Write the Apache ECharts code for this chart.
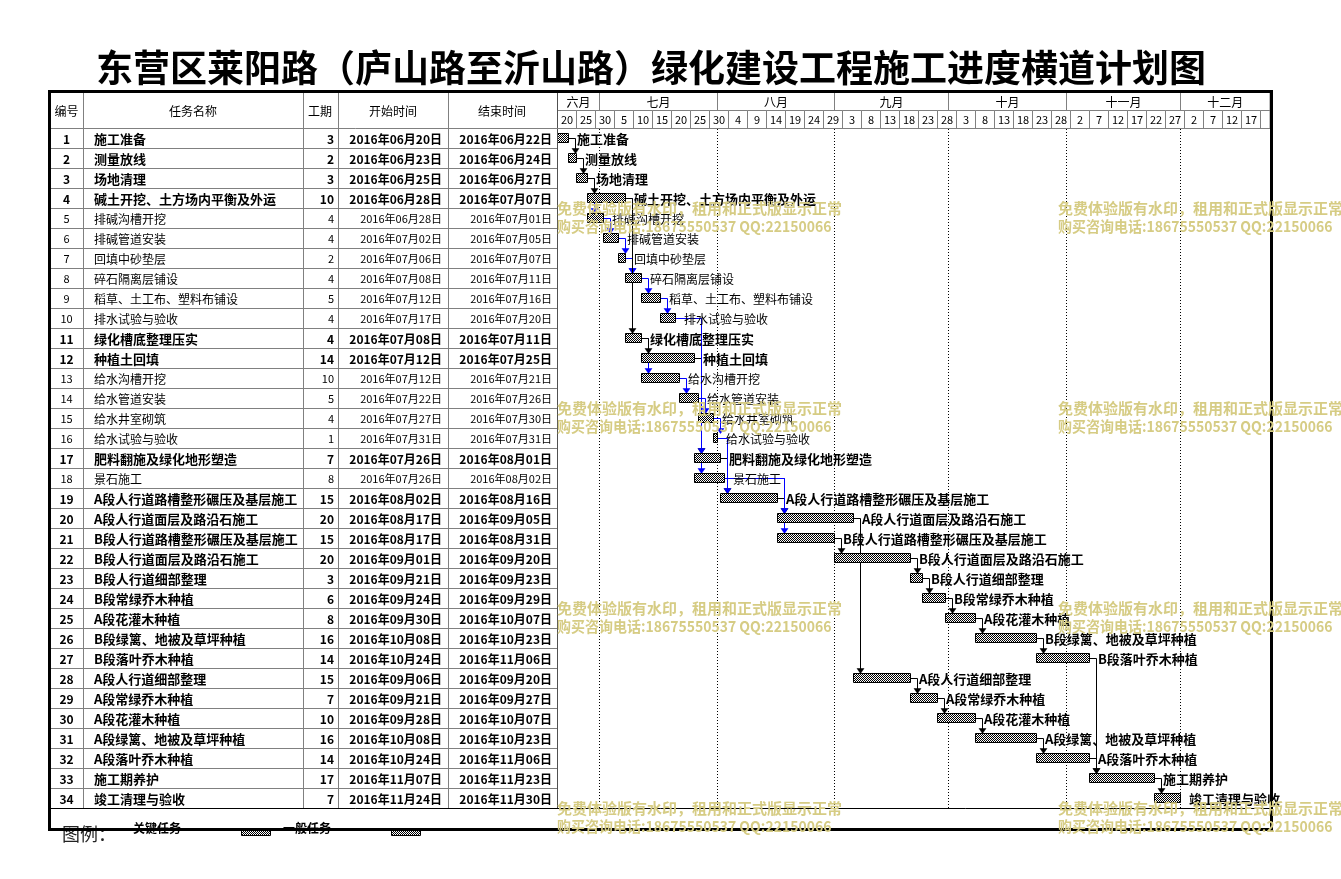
<!DOCTYPE html>
<html><head><meta charset="utf-8">
<script src="https://cdn.jsdelivr.net/npm/echarts@6/dist/echarts.min.js"></script>
<style>html,body{margin:0;padding:0;background:#fff}#c{width:1341px;height:879px}</style>
</head><body><div id="c"></div>
<script>
const FONT = '"Noto Sans CJK SC", "Noto Sans", sans-serif';
const chartTitle = '东营区莱阳路（庐山路至沂山路）绿化建设工程施工进度横道计划图';
const columnTitles = ['编号','任务名称','工期','开始时间','结束时间'];
const taskNames = ['施工准备','测量放线','场地清理','碱土开挖、土方场内平衡及外运','排碱沟槽开挖','排碱管道安装','回填中砂垫层','碎石隔离层铺设','稻草、土工布、塑料布铺设','排水试验与验收','绿化槽底整理压实','种植土回填','给水沟槽开挖','给水管道安装','给水井室砌筑','给水试验与验收','肥料翻施及绿化地形塑造','景石施工','A段人行道路槽整形碾压及基层施工','A段人行道面层及路沿石施工','B段人行道路槽整形碾压及基层施工','B段人行道面层及路沿石施工','B段人行道细部整理','B段常绿乔木种植','A段花灌木种植','B段绿篱、地被及草坪种植','B段落叶乔木种植','A段人行道细部整理','A段常绿乔木种植','A段花灌木种植','A段绿篱、地被及草坪种植','A段落叶乔木种植','施工期养护','竣工清理与验收'];
const durations = [3,2,3,10,4,4,2,4,5,4,4,14,10,5,4,1,7,8,15,20,15,20,3,6,8,16,14,15,7,10,16,14,17,7];
const startDates = ['2016-06-20','2016-06-23','2016-06-25','2016-06-28','2016-06-28','2016-07-02','2016-07-06','2016-07-08','2016-07-12','2016-07-17','2016-07-08','2016-07-12','2016-07-12','2016-07-22','2016-07-27','2016-07-31','2016-07-26','2016-07-26','2016-08-02','2016-08-17','2016-08-17','2016-09-01','2016-09-21','2016-09-24','2016-09-30','2016-10-08','2016-10-24','2016-09-06','2016-09-21','2016-09-28','2016-10-08','2016-10-24','2016-11-07','2016-11-24'];
const endDates = ['2016-06-22','2016-06-24','2016-06-27','2016-07-07','2016-07-01','2016-07-05','2016-07-07','2016-07-11','2016-07-16','2016-07-20','2016-07-11','2016-07-25','2016-07-21','2016-07-26','2016-07-30','2016-07-31','2016-08-01','2016-08-02','2016-08-16','2016-09-05','2016-08-31','2016-09-20','2016-09-23','2016-09-29','2016-10-07','2016-10-23','2016-11-06','2016-09-20','2016-09-27','2016-10-07','2016-10-23','2016-11-06','2016-11-23','2016-11-30'];
const critical = [1,1,1,1,0,0,0,0,0,0,1,1,0,0,0,0,1,0,1,1,1,1,1,1,1,1,1,1,1,1,1,1,1,1];
// [predecessor, successor, colour] (1-based ids), drawn in this order
const links = [[12,17,'k'],[17,19,'k'],[19,20,'k'],
  [3,5,'b'],[5,6,'b'],[6,7,'b'],[7,8,'b'],[4,8,'b'],[8,9,'b'],[9,10,'b'],[10,17,'b'],[10,18,'b'],[11,13,'b'],[13,14,'b'],[14,15,'b'],[15,16,'b'],[16,19,'b'],[18,20,'b'],[18,21,'b'],
  [1,2,'k'],[2,3,'k'],[3,4,'k'],[4,11,'k'],[11,12,'k'],[21,22,'k'],[22,23,'k'],[23,24,'k'],[24,25,'k'],[25,26,'k'],[26,27,'k'],[20,28,'k'],[28,29,'k'],[29,30,'k'],[30,31,'k'],[31,32,'k'],[27,33,'k'],[32,33,'k'],[33,34,'k']];
const monthLabels = ['六月','七月','八月','九月','十月','十一月','十二月'];
const monthStarts = ['2016-06-20','2016-07-01','2016-08-01','2016-09-01','2016-10-01','2016-11-01','2016-12-01'];
const dayTickLabels = ['20','25','30','5','10','15','20','25','30','4','9','14','19','24','29','3','8','13','18','23','28','3','8','13','18','23','28','2','7','12','17','22','27','2','7','12','17',''];
const legendLabels = ['图例：','关键任务','一般任务'];
const watermarkLines = ['免费体验版有水印，租用和正式版显示正常','购买咨询电话:18675550537 QQ:22150066'];

const base = Date.UTC(2016,5,20);
const dayOf = s => { const p = s.split('-').map(Number); return (Date.UTC(p[0],p[1]-1,p[2]) - base) / 86400000; };
const fmtDate = s => { const p = s.split('-'); return p[0]+'年'+p[1]+'月'+p[2]+'日'; };

const pc = document.createElement('canvas'); pc.width = 2; pc.height = 2;
const g2 = pc.getContext('2d'); g2.fillStyle = '#fff'; g2.fillRect(0,0,2,2); g2.fillStyle = '#000'; g2.fillRect(0,0,1,1); g2.fillRect(1,1,1,1);
const hatch = {image: pc, repeat: 'repeat'};

function T(text, x, y, font, align, fill) {
  return {type:'text', style:{text:text, x:x, y:y, font:font, fill:fill||'#000', textAlign:align, textVerticalAlign:'middle', align:align, verticalAlign:'middle'}};
}

function tableItem(params, api) {
  const i = api.value(1);
  const y = Math.round(api.coord([0, i])[1]);
  const crit = critical[i];
  const fNum = crit ? 'bold 12px ' + FONT : '11px ' + FONT;
  const fName = crit ? 'bold 13px ' + FONT : '12px ' + FONT;
  const ch = [
    T(String(i+1), 66.5, y+1, fNum, 'center'),
    T(taskNames[i], 94, y+1, fName, 'left'),
    T(String(durations[i]), 334, y+1, fNum, 'right'),
    T(fmtDate(startDates[i]), 442, y+1, fNum, 'right'),
    T(fmtDate(endDates[i]), 552, y+1, fNum, 'right')
  ];
  if (i < taskNames.length - 1) ch.push({type:'line', shape:{x1:51, y1:y+10.5, x2:557, y2:y+10.5}, style:{stroke:'#808080', lineWidth:1}});
  return {type:'group', children:ch};
}

function barItem(params, api) {
  const i = api.value(1);
  const s = api.coord([api.value(0), i]);
  const e = api.coord([api.value(2), i]);
  const y = Math.round(s[1]);
  const x0 = Math.round(s[0]) + 0.5, x1 = Math.round(e[0]) + 0.5;
  const font = critical[i] ? 'bold 13px ' + FONT : '12px ' + FONT;
  return {type:'group', children:[
    {type:'rect', shape:{x:x0, y:y-4.5, width:x1-x0, height:9}, style:{fill:hatch, stroke:'#000', lineWidth:1}},
    T(taskNames[i], x1 + 8.5, y+1, font, 'left')
  ]};
}

function linkItem(params, api) {
  const k = api.value(2);
  const pi = links[k][0]-1, si = links[k][1]-1;
  const col = links[k][2] === 'b' ? '#0000ff' : '#000000';
  const pe = api.coord([dayOf(endDates[pi]) + 1, pi]);
  const ss = api.coord([dayOf(startDates[si]), si]);
  const vx = Math.round(ss[0] + 7) + 0.5;
  const yp = Math.round(pe[1]) + 0.5;
  const top = Math.round(ss[1]) - 4.5;
  return {type:'group', children:[
    {type:'polyline', shape:{points:[[Math.round(pe[0])+0.5, yp],[vx, yp],[vx, top-4]]}, style:{stroke:col, lineWidth:1, fill:null}},
    {type:'polygon', shape:{points:[[vx-3.5, top-5],[vx+3.5, top-5],[vx, top]]}, style:{fill:col, stroke:col, lineWidth:0.5}}
  ]};
}

function monthItem(params, api) {
  const k = api.value(2);
  const cs = params.coordSys;
  const right = cs.x + cs.width;
  const x0 = Math.round(api.coord([api.value(0), 0])[0]) + 0.5;
  const x1 = k < monthStarts.length - 1 ? Math.round(api.coord([dayOf(monthStarts[k+1]), 0])[0]) + 0.5 : right;
  const ch = [
    {type:'rect', shape:{x:x0, y:92.5, width:x1-x0, height:18}, style:{fill:'#fff', stroke:'#808080', lineWidth:1}},
    T(monthLabels[k], (x0+x1)/2, 102, '12px ' + FONT, 'center')
  ];
  if (k > 0) ch.push({type:'line', shape:{x1:x0, y1:129, x2:x0, y2:808}, style:{stroke:'#000', lineWidth:1, lineDash:[1,2]}});
  return {type:'group', children:ch};
}

function dayItem(params, api) {
  const k = api.value(2);
  const cs = params.coordSys;
  const right = cs.x + cs.width;
  const x0 = Math.round(api.coord([api.value(0), 0])[0]) + 0.5;
  const x1 = Math.min(Math.round(api.coord([api.value(0) + 5, 0])[0]) + 0.5, right);
  return {type:'group', children:[
    {type:'rect', shape:{x:x0, y:110.5, width:x1-x0, height:18}, style:{fill:'#fff', stroke:'#808080', lineWidth:1}},
    T(dayTickLabels[k], (x0+x1)/2, 120, '11px ' + FONT, 'center')
  ]};
}

const graphics = [];
graphics.push({type:'text', z:20, style:{text:chartTitle, x:651, y:68, font:'bold 37px ' + FONT, fill:'#000', textAlign:'center', textVerticalAlign:'middle', align:'center', verticalAlign:'middle'}});
const colCenters = [66.5, 193, 320, 393, 502];
columnTitles.forEach((t, i) => graphics.push(Object.assign({z:20}, T(t, colCenters[i], 111, '12px ' + FONT, 'center'))));
[83.5, 303.5, 338.5, 448.5].forEach(x => graphics.push({type:'line', z:20, shape:{x1:x, y1:92, x2:x, y2:808}, style:{stroke:'#808080', lineWidth:1}}));
graphics.push({type:'line', z:20, shape:{x1:557.5, y1:92, x2:557.5, y2:808}, style:{stroke:'#505050', lineWidth:1}});
graphics.push({type:'line', z:20, shape:{x1:51, y1:128.5, x2:1270, y2:128.5}, style:{stroke:'#808080', lineWidth:1}});
graphics.push({type:'line', z:20, shape:{x1:51, y1:808.5, x2:1270, y2:808.5}, style:{stroke:'#000', lineWidth:1}});
// legend
graphics.push(Object.assign({z:10}, T(legendLabels[0], 62, 834, '18px ' + FONT, 'left', '#222')));
graphics.push(Object.assign({z:10}, T(legendLabels[1], 133, 828, 'bold 12px ' + FONT, 'left')));
graphics.push({type:'rect', z:10, shape:{x:241.5, y:828.5, width:29, height:7}, style:{fill:hatch, stroke:'#000', lineWidth:1}});
graphics.push(Object.assign({z:10}, T(legendLabels[2], 283, 828, 'bold 12px ' + FONT, 'left')));
graphics.push({type:'rect', z:10, shape:{x:391.5, y:828.5, width:29, height:7}, style:{fill:hatch, stroke:'#000', lineWidth:1}});
// frame
graphics.push({type:'rect', z:50, shape:{x:49.5, y:91.5, width:1222, height:738}, style:{fill:null, stroke:'#000', lineWidth:3}});
// watermarks
[208, 408, 608, 808].forEach(y => [557, 1058].forEach(x => {
  graphics.push(Object.assign({z:100}, T(watermarkLines[0], x, y, 'bold 15px ' + FONT, 'left', '#d6cc84')));
  const t2 = T(watermarkLines[1], 0, 0, 'bold 15px ' + FONT, 'left', '#d6cc84');
  graphics.push(Object.assign({z:100, x:x, y:y+18, scaleX:0.932}, t2));
}));

const chart = echarts.init(document.getElementById('c'));
chart.setOption({
  animation: false,
  backgroundColor: '#fff',
  grid: {left: 557, top: 128, width: 713, height: 680},
  xAxis: {type: 'value', min: 0, max: 187.63, show: false},
  yAxis: {type: 'category', data: taskNames.map((_, i) => String(i+1)), inverse: true, show: false},
  graphic: graphics,
  series: [
    {type:'custom', z:2, clip:false, renderItem: monthItem, encode:{x:0, y:1}, data: monthStarts.map((s, k) => [dayOf(s), 0, k])},
    {type:'custom', z:2, clip:false, renderItem: dayItem, encode:{x:0, y:1}, data: dayTickLabels.map((t, k) => [5*k, 0, k])},
    {type:'custom', z:3, clip:false, renderItem: tableItem, encode:{x:0, y:1}, data: taskNames.map((_, i) => [0, i])},
    {type:'custom', z:3, clip:false, renderItem: linkItem, encode:{x:0, y:1}, data: links.map((l, k) => [0, 0, k])},
    {type:'custom', z:4, clip:false, renderItem: barItem, encode:{x:[0,2], y:1}, data: taskNames.map((_, i) => [dayOf(startDates[i]), i, dayOf(endDates[i]) + 1])}
  ]
});
</script></body></html>
